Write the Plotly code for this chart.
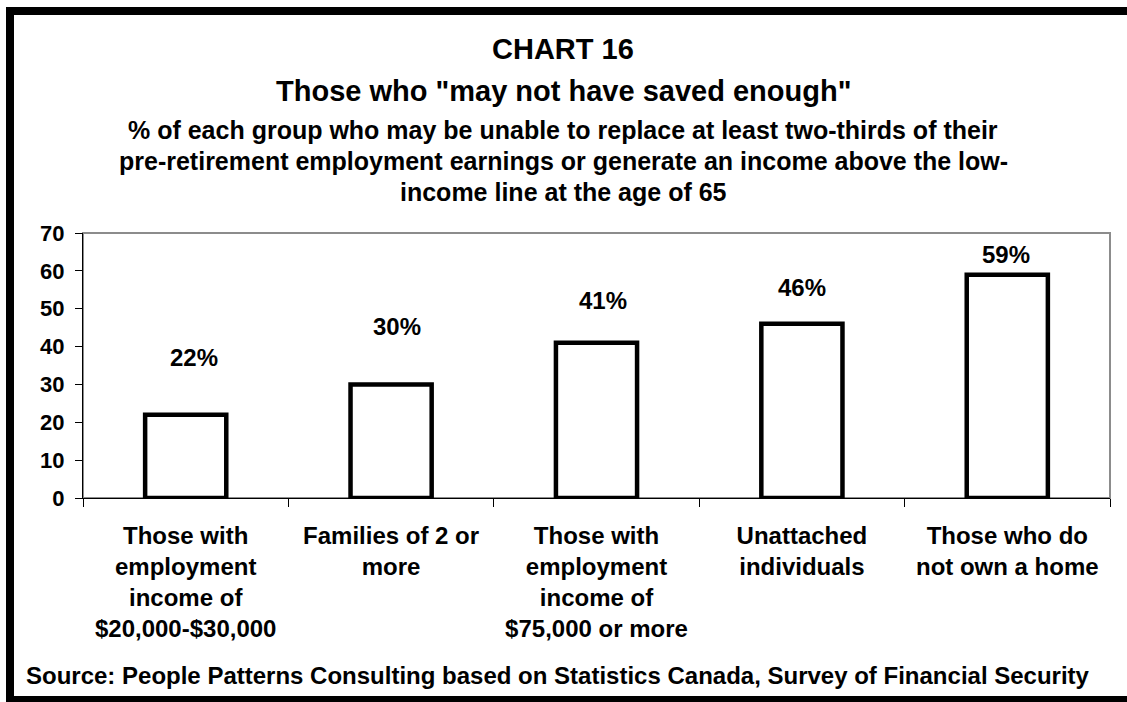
import plotly.graph_objects as go

# ---- data ----
categories = [
    "Those with<br>employment<br>income of<br>$20,000-$30,000",
    "Families of 2 or<br>more",
    "Those with<br>employment<br>income of<br>$75,000 or more",
    "Unattached<br>individuals",
    "Those who do<br>not own a home",
]
values = [22, 30, 41, 46, 59]
y_ticks = [0, 10, 20, 30, 40, 50, 60, 70]

title_line1 = "CHART 16"
title_line2 = 'Those who "may not have saved enough"'
subtitle_lines = [
    "% of each group who may be unable to replace at least two-thirds of their",
    "pre-retirement employment earnings or generate an income above the low-",
    "income line at the age of 65",
]
source_text = "Source: People Patterns Consulting based on Statistics Canada, Survey of Financial Security"

# ---- layout / style ----
W, H = 1127, 702
ML, MR, MT, MB = 83, 17, 233, 204
PW = W - ML - MR
PH = H - MT - MB
FONT = "Liberation Sans, Arial, sans-serif"
LABEL_Y = [37.2, 45.2, 52.3, 55.5, 64.4]  # data-label placement (Excel manual positions)
LABEL_DX = [8, 6, 6, 0, -1]


def px_x(px):
    return (px - ML) / PW


def px_y(py):
    return (H - MB - py) / PH


fig = go.Figure()
fig.add_trace(go.Bar(
    x=categories,
    y=values,
    width=0.395,
    marker=dict(color="white", line=dict(color="black", width=4.5)),
    hoverinfo="skip",
))

annotations = []
for c, v, ly, dx in zip(categories, values, LABEL_Y, LABEL_DX):
    annotations.append(dict(
        x=c, y=ly, xref="x", yref="y", text=f"<b>{v}%</b>", showarrow=False,
        font=dict(family=FONT, size=24, color="black"), xanchor="center", yanchor="middle",
        xshift=dx,
    ))

title_x = px_x(563)
annotations.append(dict(x=title_x, y=px_y(49), xref="paper", yref="paper",
                        text=f"<b>{title_line1}</b>", showarrow=False,
                        font=dict(family=FONT, size=29, color="black"),
                        xanchor="center", yanchor="middle"))
annotations.append(dict(x=title_x, y=px_y(91), xref="paper", yref="paper",
                        text=f"<b>{title_line2}</b>", showarrow=False,
                        font=dict(family=FONT, size=29, color="black"),
                        xanchor="center", yanchor="middle"))
for i, line in enumerate(subtitle_lines):
    annotations.append(dict(x=title_x, y=px_y(130 + 31 * i), xref="paper", yref="paper",
                            text=f"<b>{line}</b>", showarrow=False,
                            font=dict(family=FONT, size=25, color="black"),
                            xanchor="center", yanchor="middle"))
annotations.append(dict(x=px_x(558), y=px_y(675), xref="paper", yref="paper",
                        text=f"<b>{source_text}</b>", showarrow=False,
                        font=dict(family=FONT, size=24, color="black"),
                        xanchor="center", yanchor="middle"))

shapes = [
    # plot-area frame (gray top/right)
    dict(type="rect", xref="paper", yref="paper", x0=0, x1=1, y0=0, y1=1,
         line=dict(color="#8c8c8c", width=2), layer="below"),
    # outer chart border
    dict(type="rect", xref="paper", yref="paper",
         x0=px_x(10), x1=px_x(1140), y0=px_y(700), y1=px_y(11),
         line=dict(color="black", width=8), layer="above"),
]

fig.update_layout(
    width=W, height=H,
    margin=dict(l=ML, r=MR, t=MT, b=MB, pad=0),
    paper_bgcolor="white", plot_bgcolor="white",
    showlegend=False,
    annotations=annotations,
    shapes=shapes,
    font=dict(family=FONT, color="black"),
)
fig.update_xaxes(
    type="category",
    tickson="boundaries",
    ticks="outside", ticklen=8, tickcolor="black", tickwidth=1,
    showline=True, linecolor="black", linewidth=1,
    showgrid=False,
    tickfont=dict(family=FONT, size=24, color="black", weight="bold"),
    ticklabelstandoff=16,
)
fig.update_yaxes(
    range=[0, 70], tickvals=y_ticks,
    ticks="outside", ticklen=7, tickcolor="black", tickwidth=1,
    showline=True, linecolor="black", linewidth=1,
    showgrid=False, zeroline=False,
    tickfont=dict(family=FONT, size=22, color="black", weight="bold"),
    ticklabelstandoff=6,
)

fig.write_html("out.html")
